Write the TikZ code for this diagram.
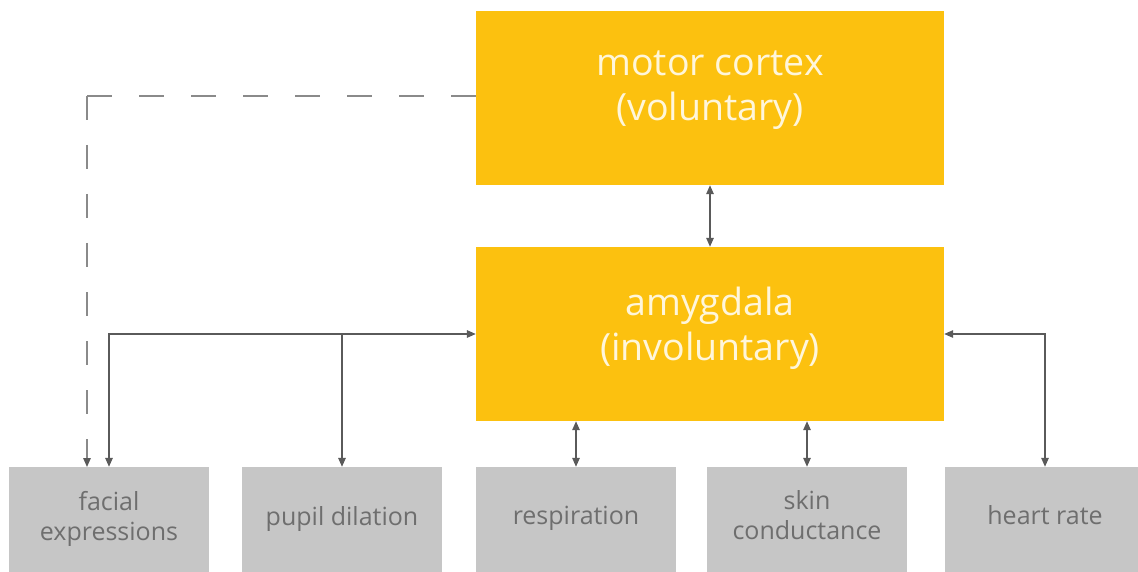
\documentclass[tikz,border=0pt]{standalone}
\usepackage{fontspec}
\setmainfont{Open Sans}
\usetikzlibrary{arrows.meta}
\definecolor{ambr}{HTML}{FCC10F}
\definecolor{boxgray}{HTML}{C6C6C6}
\definecolor{txtgray}{HTML}{6E6E6E}
\definecolor{arrgray}{HTML}{5A5A5A}
\definecolor{dashgray}{HTML}{8A8A8A}
\definecolor{ytext}{HTML}{FFF6DA}
\tikzset{
  brainbox/.style={fill=ambr, draw=none, minimum width=468pt, minimum height=174pt, inner sep=0pt},
  braintext/.style={text=ytext, align=center, font=\fontsize{37.5}{45}\selectfont, inner sep=0pt},
  outbox/.style={fill=boxgray, draw=none, minimum width=200pt, minimum height=105pt, inner sep=0pt},
  outtext/.style={text=txtgray, align=center, font=\fontsize{25}{30}\selectfont, inner sep=0pt},
  link/.style={draw=arrgray, line width=1.4pt, arrows={Triangle[length=9pt,width=7.5pt]-Triangle[length=9pt,width=7.5pt]}},
  onelink/.style={draw=arrgray, line width=1.4pt, -{Triangle[length=9pt,width=7.5pt]}},
  dashline/.style={draw=dashgray, line width=1.4pt, dash pattern=on 25pt off 27pt},
  dashlink/.style={draw=dashgray, line width=1.4pt, dash pattern=on 24pt off 25pt, -{Triangle[length=9pt,width=7.5pt,color=arrgray]}}
}
\begin{document}
\begin{tikzpicture}[x=1pt,y=-1pt]
\useasboundingbox (0,0) rectangle (1138,572);
\begin{scope}
\clip (0,0) rectangle (1138,572);
\node[brainbox] (motor) at (710,98) {};
\node[braintext] (motortext) at (710,90) {motor cortex\\(voluntary)};
\node[brainbox] (amyg) at (710,334) {};
\node[braintext] (amygtext) at (710,328) {amygdala\\(involuntary)};
\node[outbox] (facial) at (109,519.5) {};
\node[outbox] (pupil) at (342,519.5) {};
\node[outbox] (resp) at (576,519.5) {};
\node[outbox] (skin) at (807,519.5) {};
\node[outbox] (heart) at (1045,519.5) {};
\end{scope}
\node[outtext] (facialtext) at (109,519) {facial\\expressions};
\node[outtext] (pupiltext) at (342,519) {pupil dilation};
\node[outtext] (resptext) at (576,518) {respiration};
\node[outtext] (skintext) at (807,515) {skin\\conductance};
\node[outtext] (hearttext) at (1045,515) {heart rate};
\coordinate (dashend) at (87,467);
\coordinate (dashcorner) at (87,96);
\draw[dashline] (dashcorner) -- (motor.west |- dashcorner);
\draw[dashlink] (dashcorner) -- (dashend);
\draw[link] (motor.south) -- (amyg.north);
\draw[link] (facial.north) |- (amyg.west);
\coordinate (pupiljoin) at (pupil.north |- amyg.west);
\draw[onelink] (pupiljoin) -- (pupil.north);
\draw[link] (resp.north) -- (resp.north |- amyg.south);
\draw[link] (skin.north) -- (skin.north |- amyg.south);
\draw[link] (heart.north) |- (amyg.east);
\end{tikzpicture}
\end{document}
